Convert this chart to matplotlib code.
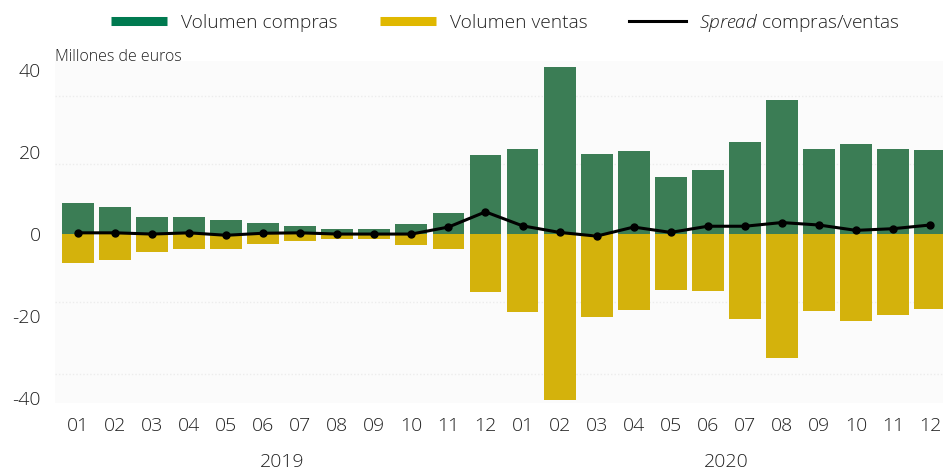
import matplotlib
matplotlib.use("Agg")
import matplotlib.pyplot as plt
import matplotlib.transforms as mtransforms
from matplotlib.lines import Line2D
import numpy as np

plt.rcParams['font.family'] = ['Open Sans', 'DejaVu Sans']
plt.rcParams['font.weight'] = 'light'
plt.rcParams['mathtext.fontset'] = 'custom'
plt.rcParams['mathtext.it'] = 'Open Sans:italic:light'
plt.rcParams['mathtext.rm'] = 'Open Sans:light'

months = ["01", "02", "03", "04", "05", "06", "07", "08", "09", "10", "11", "12",
          "01", "02", "03", "04", "05", "06", "07", "08", "09", "10", "11", "12"]
years = ["2019", "2020"]
compras = [7.5, 6.6, 4.1, 4.1, 3.4, 2.7, 2.0, 1.2, 1.2, 2.5, 5.1, 19.2,
           20.7, 40.6, 19.5, 20.2, 13.9, 15.6, 22.4, 32.6, 20.7, 21.9, 20.7, 20.4]
ventas = [-7.1, -6.3, -4.4, -3.7, -3.7, -2.4, -1.7, -1.2, -1.1, -2.7, -3.6, -14.1,
          -19.0, -40.4, -20.2, -18.5, -13.7, -13.9, -20.7, -30.2, -18.7, -21.2, -19.6, -18.3]
spread = [0.3, 0.3, 0.0, 0.3, -0.3, 0.2, 0.3, 0.0, 0.0, 0.0, 1.7, 5.4,
          2.0, 0.4, -0.5, 1.7, 0.4, 1.9, 1.9, 2.8, 2.2, 0.9, 1.3, 2.2]
yticks = [-40, -20, 0, 20, 40]

green = "#3b7d55"
yellow = "#d4b20c"
green_leg = "#007a50"
yellow_leg = "#e0b800"
txt = "#222222"

W, H = 943, 470
fig = plt.figure(figsize=(W / 100, H / 100), dpi=100)
ax = fig.add_axes([55 / W, 67 / H, 1 - 55 / W, 342 / H])
ax.set_facecolor("#fbfbfb")

x = np.arange(len(months))
ax.bar(x, compras, width=0.86, color=green, zorder=2)
ax.bar(x, ventas, width=0.86, color=yellow, zorder=2)
ax.plot(x, spread, color="black", lw=2.2, marker="o", ms=5, zorder=3)

for g in [17, 33.5, -16.5, -34]:
    ax.axhline(g, color="#ececec", lw=1, ls=(0, (1, 1.5)), zorder=1)

ax.set_xlim(-0.62, 23.35)
ax.set_ylim(-41.1, 42.1)
ax.set_yticks(yticks)
ax.set_yticklabels([str(v) for v in yticks])
ax.set_xticks(x)
ax.set_xticklabels(months)
ax.tick_params(axis="both", length=0, labelsize=14, colors=txt)
ax.tick_params(axis="y", pad=10)
ax.tick_params(axis="x", pad=10)
for s in ax.spines.values():
    s.set_visible(False)

trans = mtransforms.blended_transform_factory(ax.transData, fig.transFigure)
ax.text(5.5, 1 - 462 / H, years[0], transform=trans, ha="center", va="center",
        fontsize=14, color=txt)
ax.text(17.5, 1 - 462 / H, years[1], transform=trans, ha="center", va="center",
        fontsize=14, color=txt)

fig.text(55 / W, 1 - 61 / H, "Millones de euros", ha="left", va="baseline",
         fontsize=11.5, color=txt)

handles = [Line2D([], [], color=green_leg, lw=6.5, solid_capstyle="butt"),
           Line2D([], [], color=yellow_leg, lw=6.5, solid_capstyle="butt"),
           Line2D([], [], color="black", lw=2.2)]
labels = ["Volumen compras", "Volumen ventas", r"$\mathit{Spread}$ compras/ventas"]
leg = fig.legend(handles, labels, loc="center", bbox_to_anchor=(0.536, 1 - 23 / H),
                 ncol=3, frameon=False, fontsize=13.8, handlelength=2.95,
                 handletextpad=0.7, columnspacing=2.2, borderaxespad=0)
for t in leg.get_texts():
    t.set_color(txt)

fig.savefig("out.png", dpi=100, facecolor="white")
